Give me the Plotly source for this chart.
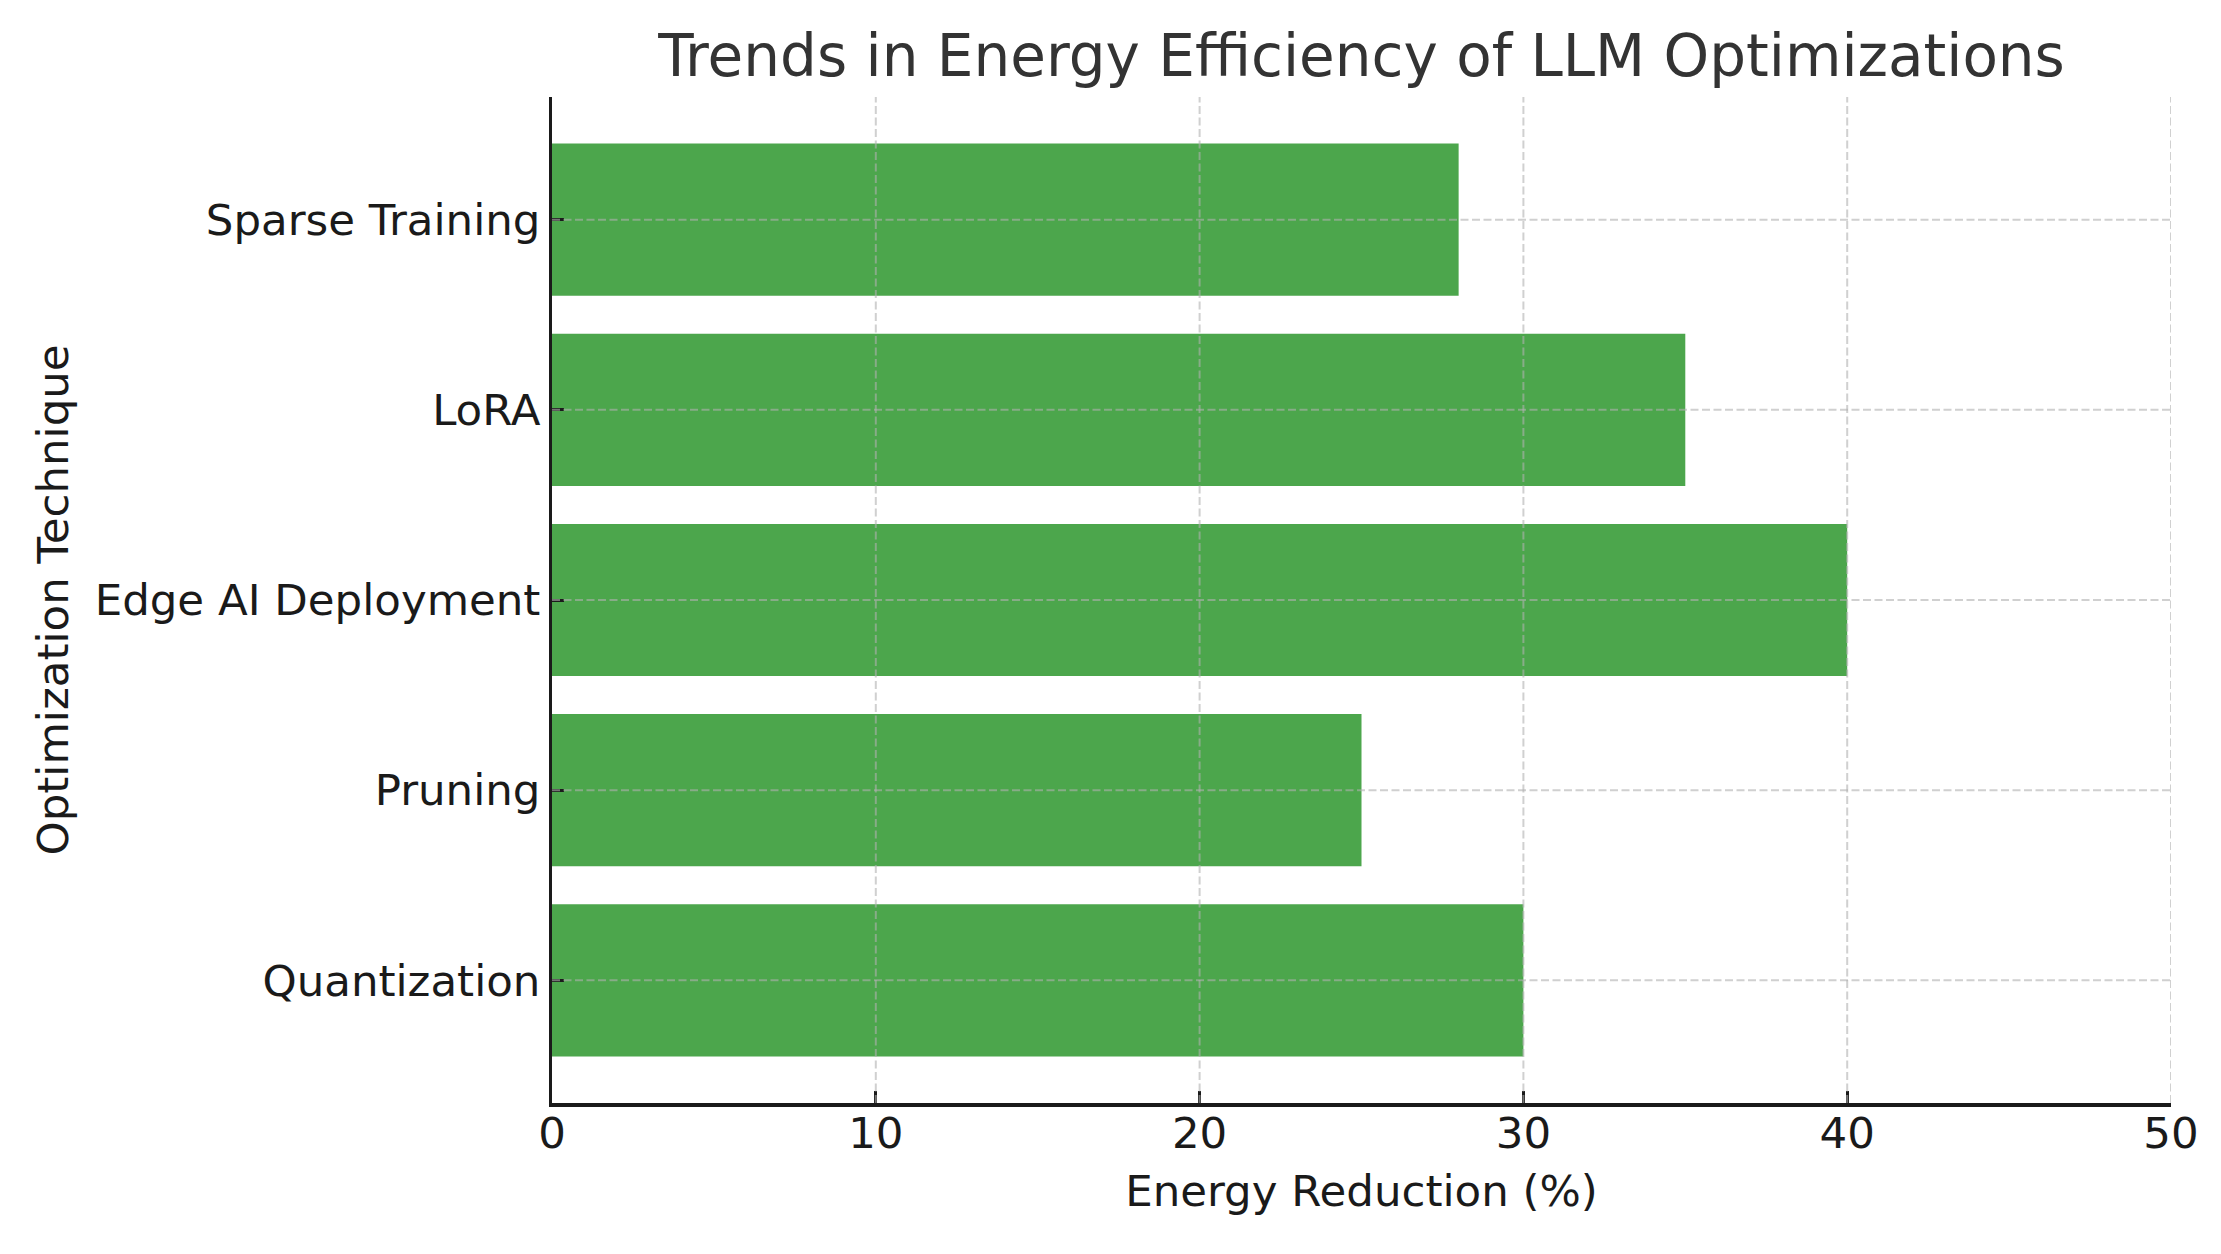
import plotly.graph_objects as go

techniques = ["Quantization", "Pruning", "Edge AI Deployment", "LoRA", "Sparse Training"]
energy_reduction = [30, 25, 40, 35, 28]
x_ticks = [0, 10, 20, 30, 40, 50]

# page body has an 8px margin, so the figure is drawn 16px smaller and offset by 8px
PAD = 8
W, H = 2221 - 2 * PAD, 1254 - 2 * PAD
FONT = "DejaVu Sans"

fig = go.Figure()
fig.add_trace(go.Bar(
    x=energy_reduction,
    y=techniques,
    orientation="h",
    width=0.8,
    marker=dict(color="rgba(0,128,0,0.7)", line=dict(width=0)),
))

grid_line = dict(color="rgba(176,176,176,0.6)", width=2, dash="8px,3.5px")
shapes = []
for t in x_ticks[1:]:
    shapes.append(dict(type="line", xref="x", yref="y domain", x0=t, x1=t, y0=0, y1=1,
                       line=grid_line, layer="above"))
for i, _ in enumerate(techniques):
    shapes.append(dict(type="line", xref="x domain", yref="y", x0=0, x1=1, y0=i, y1=i,
                       line=grid_line, layer="above"))

left, right, top, bottom = 552 - PAD, 2171 - PAD, 97 - PAD, 1103 - PAD

fig.update_layout(
    width=W, height=H,
    margin=dict(l=left, r=W - right, t=top, b=H - bottom, autoexpand=False),
    paper_bgcolor="white", plot_bgcolor="white",
    showlegend=False,
    font=dict(family=FONT, size=43.5, color="#1a1a1a"),
    title=dict(text="Trends in Energy Efficiency of LLM Optimizations",
               font=dict(family=FONT, size=58, color="#333333"),
               x=0.5, xanchor="center", xref="paper",
               y=1 - (56 - PAD) / H, yanchor="middle", yref="container"),
    shapes=shapes,
    bargap=0.2,
)
fig.update_xaxes(
    range=[0, 50], tickvals=x_ticks, ticktext=[str(v) for v in x_ticks],
    showgrid=False, zeroline=False,
    showline=True, linecolor="#1a1a1a", linewidth=4,
    ticks="inside", ticklen=12, tickwidth=2.5, tickcolor="#1a1a1a",
    tickfont=dict(family=FONT, size=43.5, color="#1a1a1a"),
    ticklabelstandoff=-11,
    title=dict(text="Energy Reduction (%)", font=dict(family=FONT, size=43.5, color="#1a1a1a"), standoff=19),
    layer="above traces",
)
fig.update_yaxes(
    type="category", categoryorder="array", categoryarray=techniques,
    range=[-0.645, 4.645],
    showgrid=False, zeroline=False,
    showline=True, linecolor="#1a1a1a", linewidth=2.7,
    ticks="inside", ticklen=12, tickwidth=3, tickcolor="#1a1a1a",
    tickfont=dict(family=FONT, size=43.5, color="#1a1a1a"),
    ticklabelstandoff=0,
    title=dict(text="Optimization Technique", font=dict(family=FONT, size=43.5, color="#1a1a1a"), standoff=13),
    layer="above traces",
)

fig.write_html("out.html")
